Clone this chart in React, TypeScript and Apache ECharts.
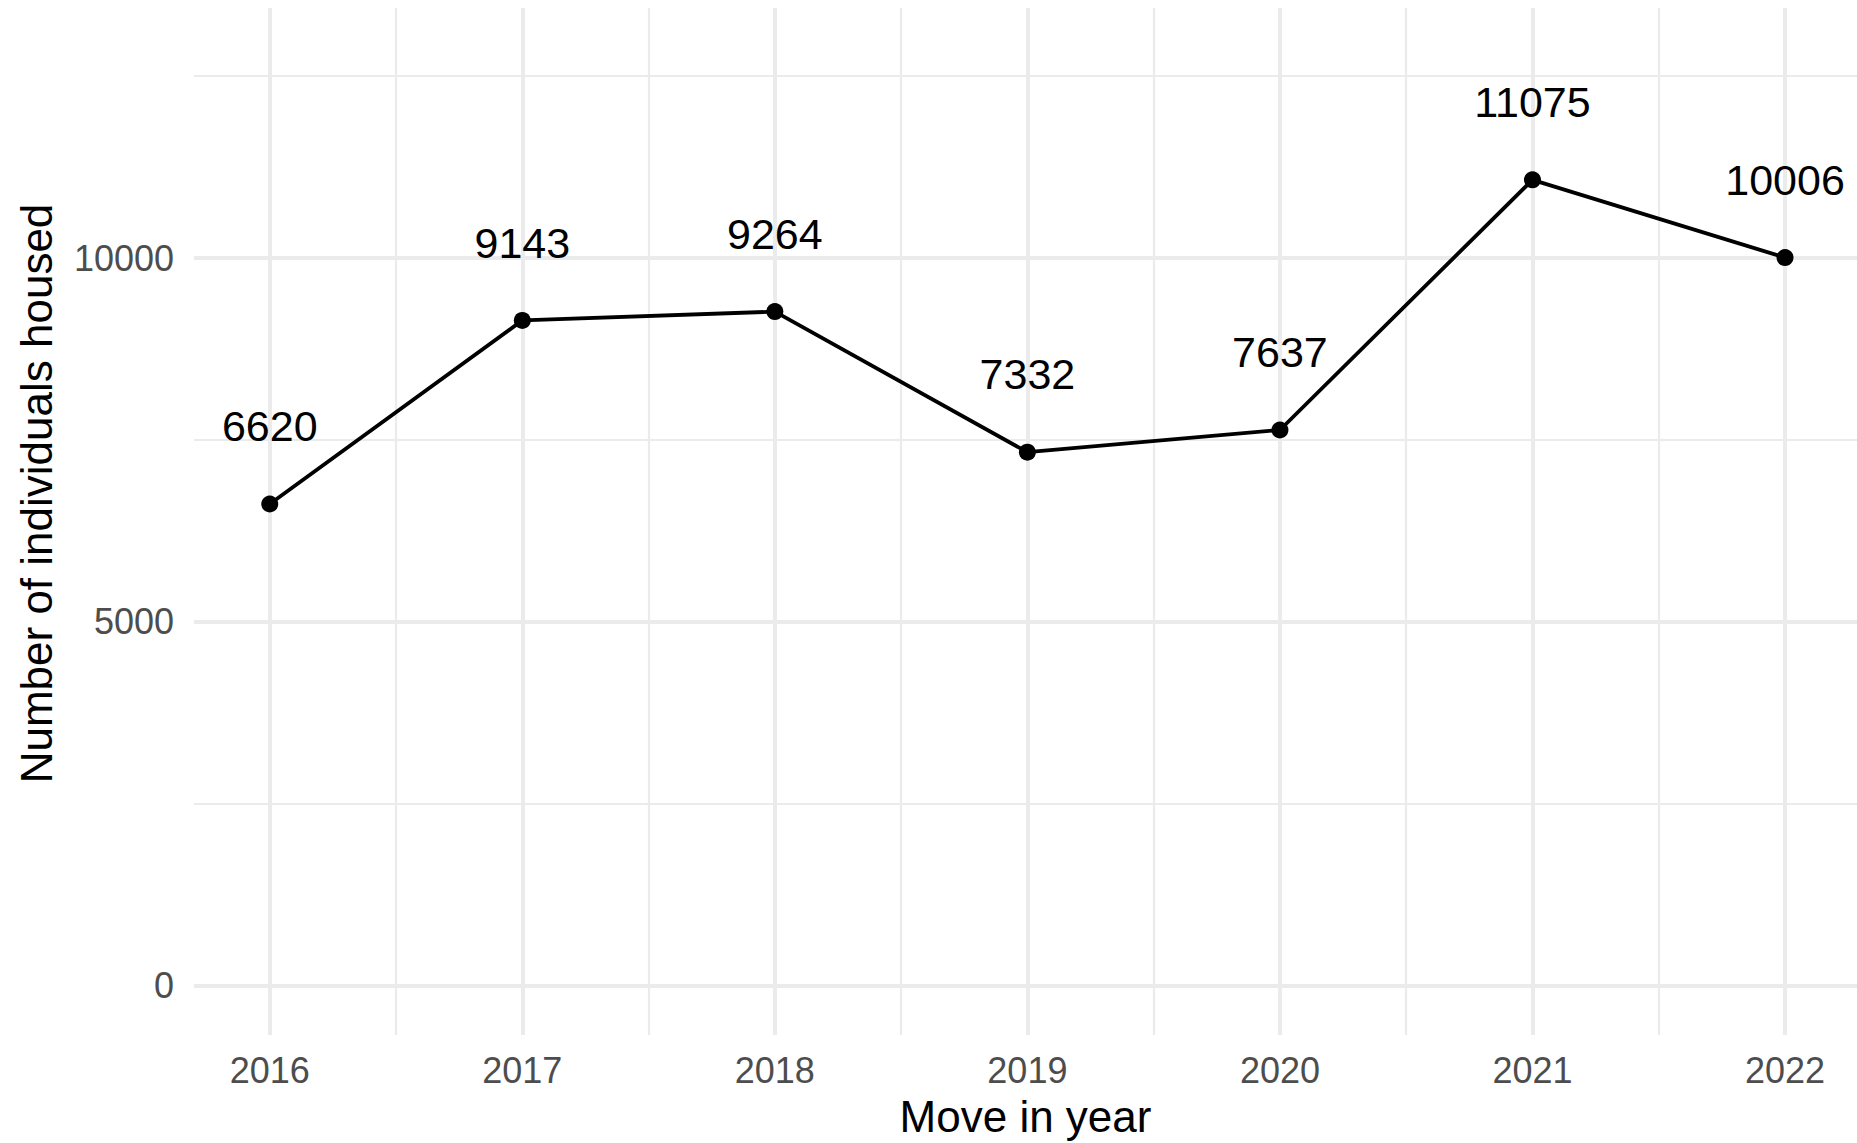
import React, { useEffect, useRef } from "react";
import * as echarts from "echarts";

const years = [2016, 2017, 2018, 2019, 2020, 2021, 2022];
const housed = [6620, 9143, 9264, 7332, 7637, 11075, 10006];
const yTickLabels = [0, 5000, 10000];
const xMajorGrid = [2016, 2017, 2018, 2019, 2020, 2021, 2022];
const xMinorGrid = [2016.5, 2017.5, 2018.5, 2019.5, 2020.5, 2021.5];
const yMajorGrid = [0, 5000, 10000];
const yMinorGrid = [2500, 7500, 12500];

const FONT = '"Liberation Sans", Arial, Helvetica, sans-serif';
const GRID_COLOR = "#ebebeb";

export default function App() {
  const ref = useRef<HTMLDivElement>(null);
  useEffect(() => {
    document.body.style.margin = "0";
    const chart = echarts.init(ref.current!, undefined, { renderer: "svg" });
    const gridLines = [
      ...xMinorGrid.map((v) => ({ xAxis: v, lineStyle: { width: 2.2, color: GRID_COLOR, type: "solid" } })),
      ...yMinorGrid.map((v) => ({ yAxis: v, lineStyle: { width: 2.2, color: GRID_COLOR, type: "solid" } })),
      ...xMajorGrid.map((v) => ({ xAxis: v, lineStyle: { width: 4, color: GRID_COLOR, type: "solid" } })),
      ...yMajorGrid.map((v) => ({ yAxis: v, lineStyle: { width: 4, color: GRID_COLOR, type: "solid" } })),
    ];
    chart.setOption({
      animation: false,
      backgroundColor: "#ffffff",
      textStyle: { fontFamily: FONT },
      grid: { left: 194, right: 0, top: 8, bottom: 107, containLabel: false },
      xAxis: {
        type: "value",
        min: 2015.7,
        max: 2022.285,
        name: "Move in year",
        nameLocation: "middle",
        nameGap: 59,
        nameTextStyle: { fontSize: 44, color: "#000", fontFamily: FONT, lineHeight: 44 },
        axisLine: { show: false },
        axisTick: { show: false },
        splitLine: { show: false },
        axisLabel: {
          customValues: years,
          fontSize: 36,
          lineHeight: 36,
          color: "#4d4d4d",
          margin: 17,
          fontFamily: FONT,
          formatter: (v: number) => String(v),
        },
      },
      yAxis: {
        type: "value",
        min: -677,
        max: 13436,
        name: "Number of individuals housed",
        nameLocation: "middle",
        nameGap: 136,
        nameTextStyle: {
          fontSize: 44,
          color: "#000",
          fontFamily: FONT,
          lineHeight: 44,
          padding: [0, 0, 0, 56],
        },
        axisLine: { show: false },
        axisTick: { show: false },
        splitLine: { show: false },
        axisLabel: {
          customValues: yTickLabels,
          fontSize: 36,
          color: "#4d4d4d",
          margin: 20,
          fontFamily: FONT,
          formatter: (v: number) => String(v),
        },
      },
      series: [
        {
          type: "line",
          name: "grid",
          data: [],
          z: 1,
          silent: true,
          markLine: {
            silent: true,
            symbol: ["none", "none"],
            label: { show: false },
            emphasis: { disabled: true },
            animation: false,
            data: gridLines,
          },
        },
        {
          type: "line",
          name: "housed",
          z: 5,
          data: years.map((y, i) => [y, housed[i]]),
          symbol: "circle",
          symbolSize: 17,
          itemStyle: { color: "#000" },
          lineStyle: { color: "#000", width: 3.8 },
          label: {
            show: true,
            position: "inside",
            offset: [0, -77.7],
            fontSize: 43,
            color: "#000",
            fontFamily: FONT,
            formatter: (p: any) => String(p.value[1]),
          },
        },
      ],
    });
    return () => chart.dispose();
  }, []);
  return (
    <div
      ref={ref}
      style={{ position: "absolute", left: 0, top: 0, width: 1857, height: 1143 }}
    />
  );
}
